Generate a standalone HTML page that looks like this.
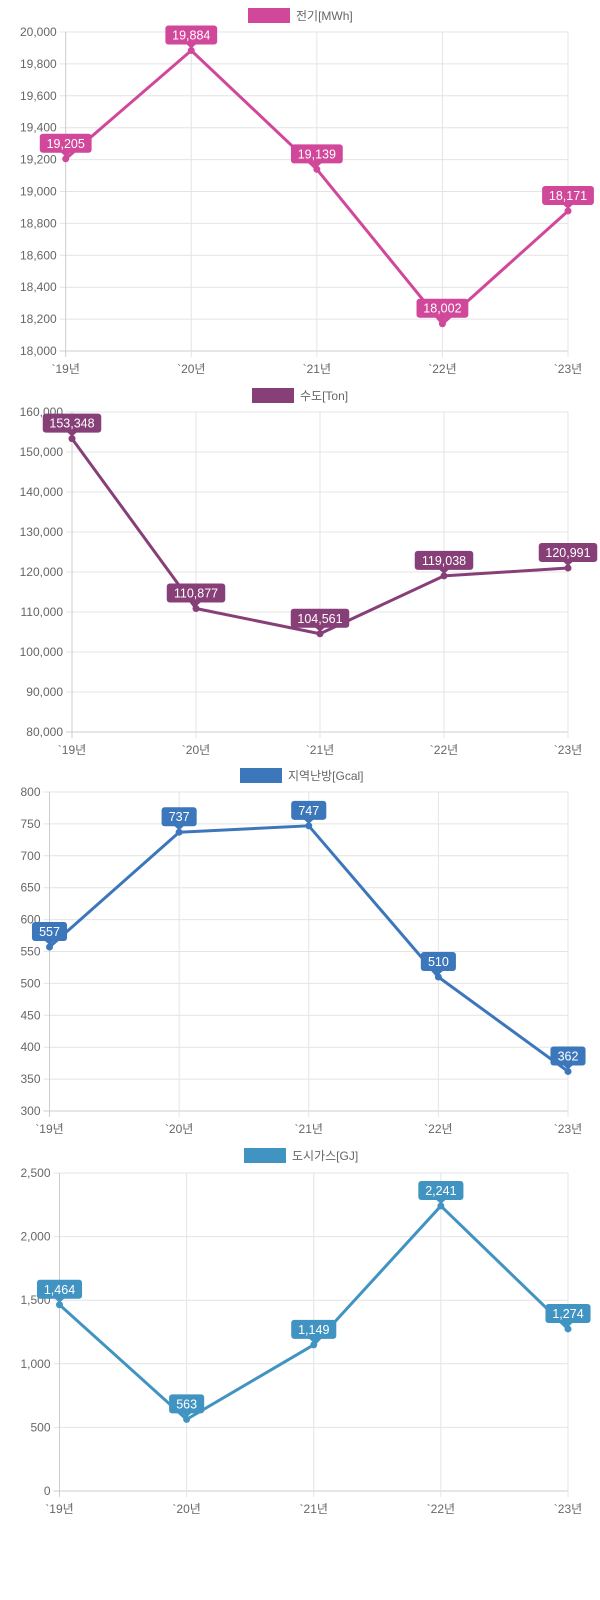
<!DOCTYPE html>
<html><head><meta charset="utf-8"><style>
html,body{margin:0;padding:0;background:#fff;width:600px;height:1600px;overflow:hidden}
svg{display:block}
text{font-family:"Liberation Sans","Noto Sans CJK KR",sans-serif;font-size:12px}
</style></head><body>
<svg id="s" width="600" height="1600" xmlns="http://www.w3.org/2000/svg"></svg>
<script>
const charts=[
 {name:"전기[MWh]",color:"#d1479a",lx:248,ly:8,x0:65.7,x1:568,top:32,bot:351,min:18000,max:20000,step:200,
  vals:[19205,19884,19139,18171,18878],labels:["19,205","19,884","19,139","18,002","18,171"]},
 {name:"수도[Ton]",color:"#873f78",lx:252,ly:388,x0:72,x1:568,top:412,bot:732,min:80000,max:160000,step:10000,
  vals:[153348,110877,104561,119038,120991],labels:["153,348","110,877","104,561","119,038","120,991"]},
 {name:"지역난방[Gcal]",color:"#3d77bb",lx:240,ly:768,x0:49.5,x1:568,top:792,bot:1111,min:300,max:800,step:50,
  vals:[557,737,747,510,362],labels:["557","737","747","510","362"]},
 {name:"도시가스[GJ]",color:"#4194c2",lx:244,ly:1148,x0:59.5,x1:568,top:1173,bot:1491,min:0,max:2500,step:500,
  vals:[1464,563,1149,2241,1274],labels:["1,464","563","1,149","2,241","1,274"]}
];
const xl=["`19년","`20년","`21년","`22년","`23년"];
let h="";
const fmt=n=>n.toLocaleString("en-US");
for(const c of charts){
 h+=`<rect x="${c.lx}" y="${c.ly}" width="42" height="15" fill="${c.color}"/>`;
 h+=`<text x="${c.lx+48}" y="${c.ly+12}" fill="#666">${c.name}</text>`;
 const Y=v=>c.bot-(v-c.min)/(c.max-c.min)*(c.bot-c.top);
 const dx=(c.x1-c.x0)/4;
 for(let v=c.min;v<=c.max+1e-6;v+=c.step){
  const y=Y(v);
  h+=`<line x1="${c.x0-6}" x2="${c.x1}" y1="${y}" y2="${y}" stroke="${v==c.min?'#ccc':'#e4e4e4'}" stroke-width="1"/>`;
  h+=`<text x="${c.x0-9}" y="${y+4}" text-anchor="end" fill="#666">${fmt(v)}</text>`;
 }
 for(let i=0;i<5;i++){
  const x=c.x0+dx*i;
  h+=`<line x1="${x}" x2="${x}" y1="${c.top}" y2="${c.bot+6}" stroke="${i==0?'#ccc':'#e4e4e4'}"/>`;
  h+=`<text x="${x}" y="${c.bot+22}" text-anchor="middle" fill="#666">${xl[i]}</text>`;
 }
 const pts=c.vals.map((v,i)=>[c.x0+dx*i,Y(v)]);
 h+=`<polyline points="${pts.map(p=>p.join(',')).join(' ')}" fill="none" stroke="${c.color}" stroke-width="3" stroke-linejoin="round"/>`;
 pts.forEach((p,i)=>{
  h+=`<circle cx="${p[0]}" cy="${p[1]}" r="3.5" fill="${c.color}"/>`;
 });
 pts.forEach((p,i)=>{
  const t=c.labels[i];
  const d=t.replace(/,/g,"").length, cm=t.length-d;
  const w=d*6.7+cm*3.3+15;
  const bb=p[1]-6, bt=bb-19;
  h+=`<rect x="${p[0]-w/2}" y="${bt}" width="${w}" height="19" rx="3" fill="${c.color}"/>`;
  h+=`<polygon points="${p[0]-5},${bb-0.5} ${p[0]+5},${bb-0.5} ${p[0]},${bb+4}" fill="${c.color}"/>`;
  h+=`<text x="${p[0]}" y="${bt+14}" text-anchor="middle" fill="#fff" style="font-size:12.5px">${t}</text>`;
 });
}
document.getElementById("s").innerHTML=h;
</script>
</body></html>
